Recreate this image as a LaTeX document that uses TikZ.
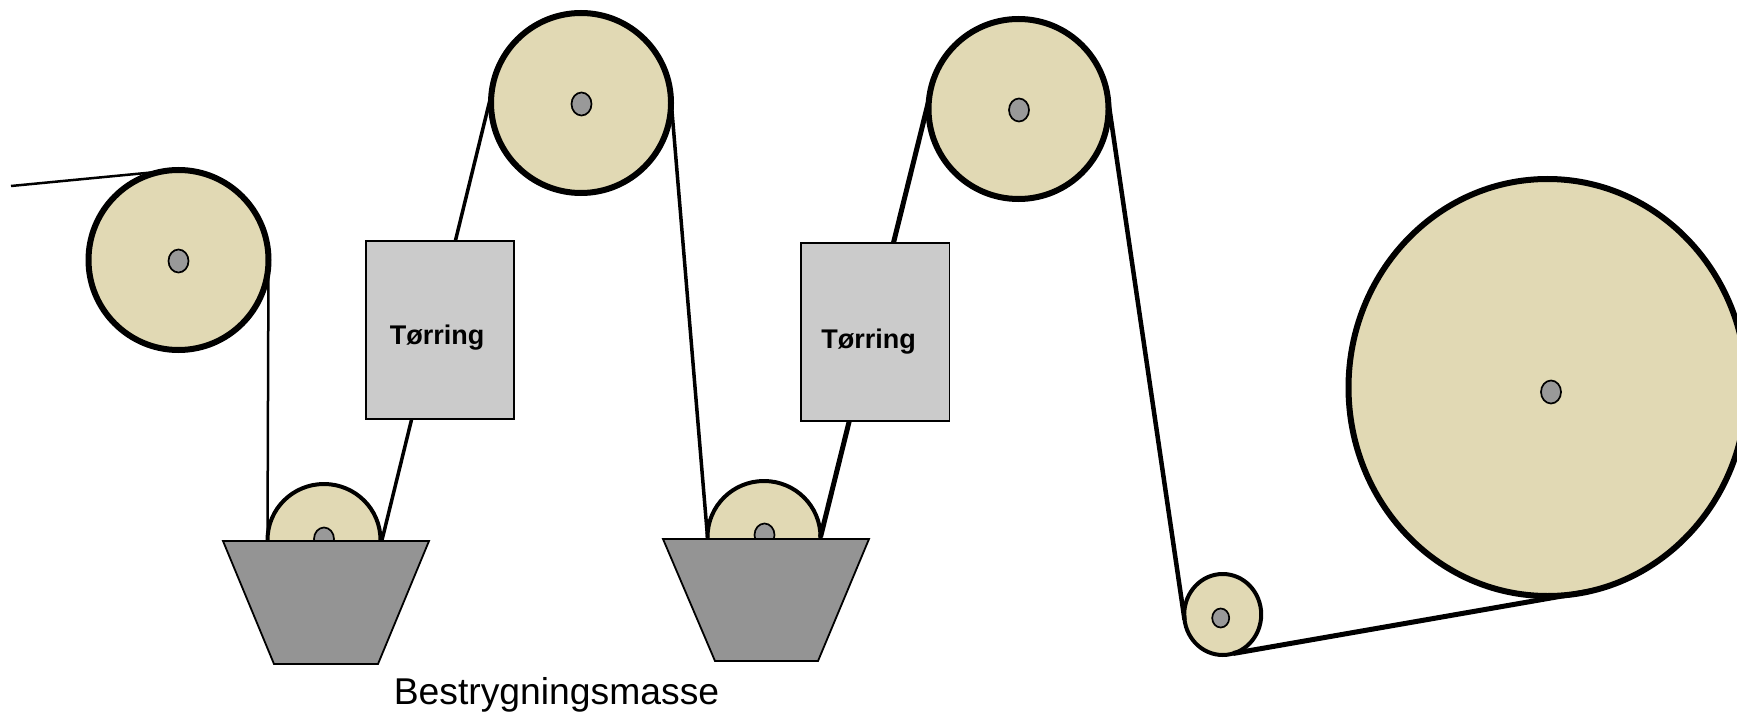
\documentclass[tikz,border=0pt]{standalone}
\usepackage{fontspec}
\setmainfont{Liberation Sans}
\usetikzlibrary{shapes.geometric}
\definecolor{rollfill}{HTML}{E1D9B4}
\definecolor{hubfill}{HTML}{999999}
\definecolor{trayfill}{HTML}{949494}
\definecolor{dryfill}{HTML}{CBCBCB}
\tikzset{
  wheel/.style={draw, ellipse, inner sep=0, outer sep=0, fill=rollfill},
  roll/.style={wheel, line width=6pt, minimum width=180pt, minimum height=180pt},
  dip/.style={wheel, line width=4pt, minimum width=113pt, minimum height=112pt},
  hub/.style={draw, ellipse, inner sep=0, outer sep=0, fill=hubfill, line width=1.7pt, minimum width=20pt, minimum height=23pt},
  dryer/.style={draw, rectangle, inner sep=0, outer sep=0, fill=dryfill, line width=1.7pt, minimum width=148.5pt, minimum height=178.5pt},
  tray/.style={draw, fill=trayfill, line width=1.8pt, line join=miter},
  belt/.style={line width=#1}
}
\begin{document}
\begin{tikzpicture}[x=1pt, y=-1pt]
\useasboundingbox (0,0) rectangle (1737,714);
\node[roll] (roll1) at (178.5,260) {};
\node[roll] (roll2) at (581,103) {};
\node[roll] (roll3) at (1018.5,109) {};
\node[wheel, line width=6pt, minimum width=398pt, minimum height=417pt] (reel) at (1547.5,387.5) {};
\node[wheel, line width=4pt, minimum width=77pt, minimum height=81pt] (guide) at (1222.7,614.5) {};
\node[dip] (dip1) at (324,540) {};
\node[dip] (dip2) at (764,537) {};
\node[hub] (hub1) at (178.5,261) {};
\node[hub] (hub2) at (581.5,104) {};
\node[hub] (hub3) at (1019,110) {};
\node[hub] (hub4) at (1551,392) {};
\node[hub, minimum width=17pt, minimum height=19pt] (hub5) at (1220.7,618) {};
\node[hub] (hub6) at (324,539) {};
\node[hub] (hub7) at (764.5,535) {};
\coordinate (feed) at (11,186);
\draw[belt=2.5pt] (feed) -- (roll1.100);
\draw[belt=2.5pt] (roll1.east) -- (dip1.west);
\draw[belt=3.5pt] ([xshift=1.5pt]dip1.east) -- (roll2.174);
\draw[belt=3.5pt] (roll2.4) -- (dip2.west);
\draw[belt=5pt] (dip2.east) -- (roll3.174);
\draw[belt=4.5pt] (roll3.7) -- (guide.188);
\draw[belt=5pt] (guide.-75) -- (reel.-78);
\node[dryer] (dryer1) at (440,330) {};
\node[dryer] (dryer2) at (875.2,332) {};
\node[font=\fontsize{27}{30}\selectfont\bfseries] (label1) at (437,338) {Tørring};
\node[font=\fontsize{27}{30}\selectfont\bfseries] (label2) at (868.5,342) {Tørring};
\draw[tray] (223,541) -- (429,541) -- (378,664) -- (274,664) -- cycle;
\draw[tray] (663,539) -- (869,539) -- (818,661) -- (715,661) -- cycle;
\node[font=\fontsize{37.3}{40}\selectfont] (mass) at (556.5,695) {Bestrygningsmasse};
\end{tikzpicture}
\end{document}
